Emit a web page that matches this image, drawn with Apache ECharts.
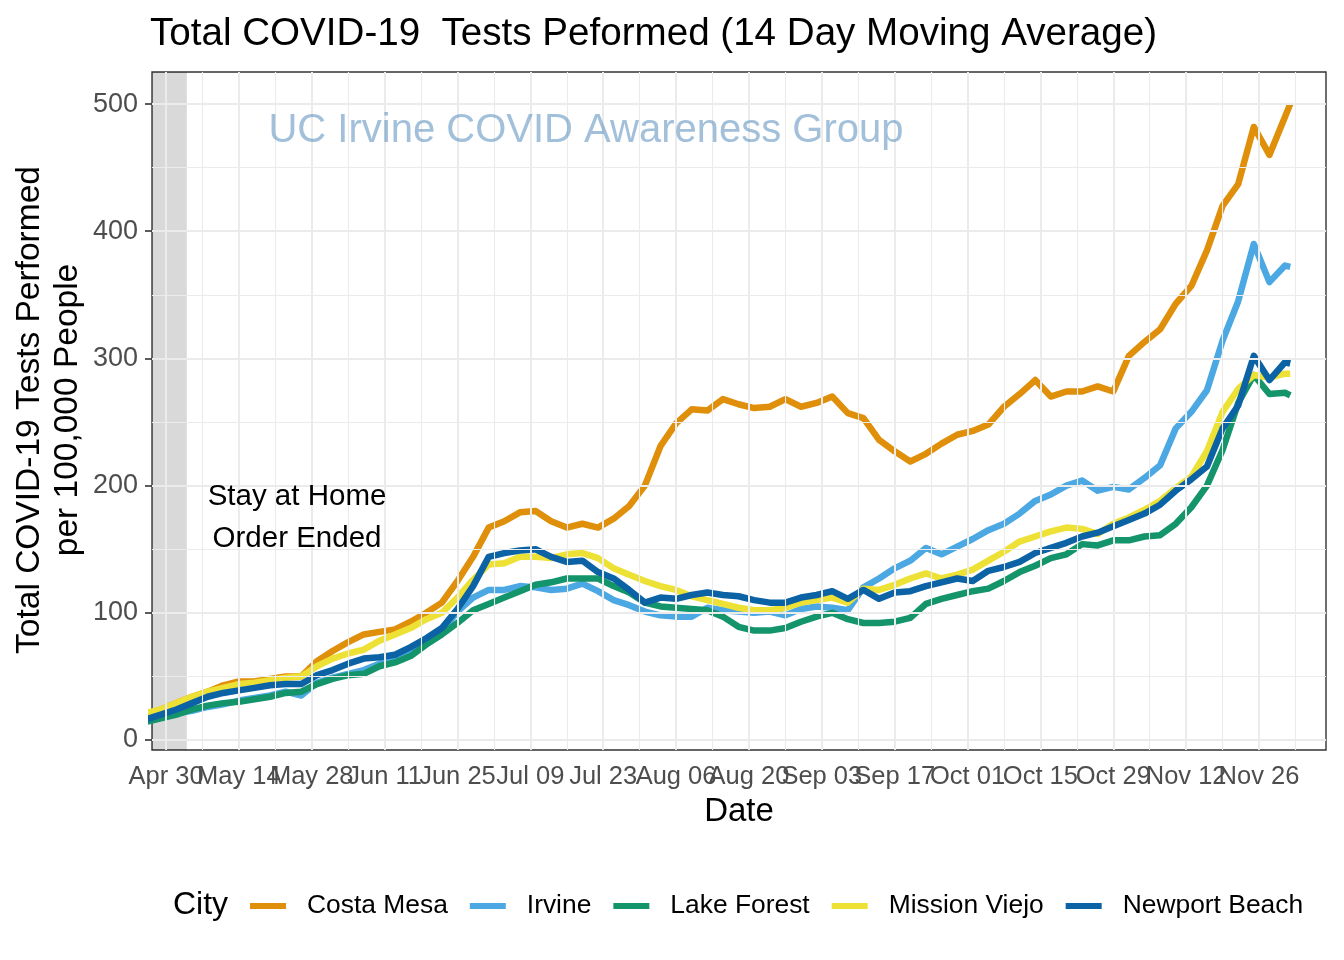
<!DOCTYPE html>
<html>
<head>
<meta charset="utf-8">
<script src="https://cdn.jsdelivr.net/npm/echarts@6/dist/echarts.min.js"></script>
<style>html,body{margin:0;padding:0;background:#fff}#c{width:1344px;height:960px}</style>
</head>
<body>
<div id="c"></div>
<script>
// ---- data ----
const dates = ['2020-04-26','2020-04-29','2020-05-02','2020-05-05','2020-05-08','2020-05-11','2020-05-14','2020-05-17','2020-05-20','2020-05-23','2020-05-26','2020-05-29','2020-06-01','2020-06-04','2020-06-07','2020-06-10','2020-06-13','2020-06-16','2020-06-19','2020-06-22','2020-06-25','2020-06-28','2020-07-01','2020-07-04','2020-07-07','2020-07-10','2020-07-13','2020-07-16','2020-07-19','2020-07-22','2020-07-25','2020-07-28','2020-07-31','2020-08-03','2020-08-06','2020-08-09','2020-08-12','2020-08-15','2020-08-18','2020-08-21','2020-08-24','2020-08-27','2020-08-30','2020-09-02','2020-09-05','2020-09-08','2020-09-11','2020-09-14','2020-09-17','2020-09-20','2020-09-23','2020-09-26','2020-09-29','2020-10-02','2020-10-05','2020-10-08','2020-10-11','2020-10-14','2020-10-17','2020-10-20','2020-10-23','2020-10-26','2020-10-29','2020-11-01','2020-11-04','2020-11-07','2020-11-10','2020-11-13','2020-11-16','2020-11-19','2020-11-22','2020-11-25','2020-11-28','2020-12-01','2020-12-02'];

const costaMesa = [20,24,29,34,38,43,46,46,48,50,50,62,70,77,83,85,87,93,100,108,125,144,167,172,179,180,172,167,170,167,174,184,200,231,249,260,259,268,264,261,262,268,262,265,270,257,253,236,227,219,225,233,240,243,248,262,272,283,270,274,274,278,274,302,313,323,343,357,385,420,437,482,460,490,500];
const irvine = [16,18,21,23,26,28,31,33,35,38,35,45,49,52,55,60,63,68,76,85,101,112,118,118,121,120,118,119,123,117,110,106,101,98,97,97,104,102,101,100,101,98,103,105,104,102,120,127,135,141,151,146,152,158,165,170,178,188,193,200,204,196,199,197,206,216,245,258,275,314,345,390,360,373,372];
const lakeForest = [14,17,20,24,27,29,30,32,34,37,38,44,48,51,52,58,61,66,75,83,92,102,107,112,117,122,124,127,127,127,121,116,108,105,104,103,102,97,89,86,86,88,93,97,100,95,92,92,93,96,107,111,114,117,119,125,132,137,143,146,154,153,157,157,160,161,170,183,200,228,265,287,272,273,271];
const missionViejo = [21,24,29,34,38,41,44,45,47,49,50,58,64,68,71,78,83,88,95,100,112,126,138,139,144,144,143,146,147,143,135,130,125,121,118,113,110,107,104,102,102,104,108,110,112,108,119,118,122,127,131,127,130,134,141,148,156,160,164,167,166,162,170,175,181,188,198,207,227,258,276,287,285,288,288];
const newportBeach = [16,20,24,29,34,37,39,41,43,44,44,51,55,60,64,65,67,73,80,88,103,121,144,147,149,150,144,140,141,132,127,118,108,112,111,114,116,114,113,110,108,108,112,114,117,111,118,111,116,117,121,124,127,125,133,136,140,147,151,155,160,163,168,173,178,185,196,205,215,245,263,302,283,297,296];

const cities = ['Costa Mesa','Irvine','Lake Forest','Mission Viejo','Newport Beach'];
const cityColors = ['#E08F0B','#4CA8E2','#14946A','#EEE135','#0B62A4'];

const xTickDates = ['2020-04-30','2020-05-14','2020-05-28','2020-06-11','2020-06-25','2020-07-09','2020-07-23','2020-08-06','2020-08-20','2020-09-03','2020-09-17','2020-10-01','2020-10-15','2020-10-29','2020-11-12','2020-11-26'];
const xMinorDates = ['2020-05-07','2020-05-21','2020-06-04','2020-06-18','2020-07-02','2020-07-16','2020-07-30','2020-08-13','2020-08-27','2020-09-10','2020-09-24','2020-10-08','2020-10-22','2020-11-05','2020-11-19','2020-12-03'];
const yTicks = [0,100,200,300,400,500];
const yMinor = [50,150,250,350,450];

const shadeEnd = '2020-05-04';
const annotation = 'Stay at Home\nOrder Ended';

// ---- helpers ----
const DAY = 86400000;
function t(s){ const p = s.split('-').map(Number); return new Date(p[0], p[1]-1, p[2]).getTime(); }
const FONT = '"Liberation Sans", Arial, Helvetica, sans-serif';

const seriesValues = [costaMesa, irvine, lakeForest, missionViejo, newportBeach];
const lineSeries = cities.map((name, i) => ({
  name: name,
  type: 'line',
  z: 3,
  showSymbol: false,
  symbol: 'none',
  clip: true,
  color: cityColors[i],
  lineStyle: { width: 6.5, color: cityColors[i], join: 'round', cap: 'butt' },
  emphasis: { disabled: true },
  data: dates.map((d, k) => [t(d), seriesValues[i][k]])
}));

const gridLines = [];
xTickDates.forEach(d => gridLines.push({ xAxis: t(d), lineStyle: { width: 2, color: '#EBEBEB', type: 'solid' } }));
xMinorDates.forEach(d => gridLines.push({ xAxis: t(d), lineStyle: { width: 1.1, color: '#EBEBEB', type: 'solid' } }));
yTicks.forEach(v => gridLines.push({ yAxis: v, lineStyle: { width: 2, color: '#EBEBEB', type: 'solid' } }));
yMinor.forEach(v => gridLines.push({ yAxis: v, lineStyle: { width: 1.1, color: '#EBEBEB', type: 'solid' } }));

const xMin = t('2020-04-30') - 2.69 * DAY;
const xMax = t('2020-11-26') + 12.87 * DAY;

const chart = echarts.init(document.getElementById('c'), null, { renderer: 'canvas' });
chart.setOption({
  animation: false,
  backgroundColor: '#ffffff',
  textStyle: { fontFamily: FONT },
  grid: { left: 152, top: 72, width: 1174, height: 678, show: true, borderColor: '#333333', borderWidth: 1.4, backgroundColor: 'transparent', containLabel: false },
  xAxis: {
    type: 'time', min: xMin, max: xMax,
    axisLine: { show: false },
    splitLine: { show: false },
    axisTick: { show: true, length: 7, lineStyle: { color: '#333333', width: 1.6 }, customValues: xTickDates.map(t) },
    axisLabel: { show: true, margin: 14, color: '#4D4D4D', fontSize: 25.5, fontFamily: FONT, hideOverlap: false,
      customValues: xTickDates.map(t), formatter: '{MMM} {dd}' }
  },
  yAxis: {
    type: 'value', min: -7.86, max: 525.2,
    axisLine: { show: false },
    splitLine: { show: false },
    axisTick: { show: true, length: 7, lineStyle: { color: '#333333', width: 1.6 }, customValues: yTicks },
    axisLabel: { show: true, margin: 14, color: '#4D4D4D', fontSize: 27, fontFamily: FONT, customValues: yTicks }
  },
  legend: {
    show: true, left: 250, top: 893, orient: 'horizontal', padding: 0,
    itemWidth: 36, itemHeight: 6, itemGap: 22, icon: 'rect',
    data: cities,
    textStyle: { fontSize: 26.4, color: '#000', fontFamily: FONT, padding: [0, 0, 0, 16] },
    selectedMode: false
  },
  graphic: [
    { type: 'text', left: 150, top: 15, style: { text: 'Total COVID-19  Tests Peformed (14 Day Moving Average)', font: '38.6px ' + FONT, fill: '#000' } },
    { type: 'text', style: { x: 586, y: 131, text: 'UC Irvine COVID Awareness Group', font: '40px ' + FONT, fill: 'rgba(70,130,180,0.5)', textAlign: 'center', textVerticalAlign: 'middle' }, z: 10 },
    { type: 'text', style: { x: 297, y: 518, text: annotation, font: '29.5px ' + FONT, lineHeight: 42, fill: '#000', textAlign: 'center', textVerticalAlign: 'middle' }, z: 10 },
    { type: 'text', style: { x: 49, y: 410, text: 'Total COVID-19 Tests Performed\nper 100,000 People', font: '33.5px ' + FONT, lineHeight: 38, fill: '#000', textAlign: 'center', textVerticalAlign: 'middle' }, rotation: Math.PI / 2, originX: 49, originY: 410 },
    { type: 'text', style: { x: 739, y: 812, text: 'Date', font: '33px ' + FONT, fill: '#000', textAlign: 'center', textVerticalAlign: 'middle' } },
    { type: 'text', style: { x: 173, y: 905, text: 'City', font: '32px ' + FONT, fill: '#000', textAlign: 'left', textVerticalAlign: 'middle' } }
  ],
  series: [
    {
      type: 'line', name: '_grid', data: [], z: 1, silent: true,
      markLine: { silent: true, symbol: ['none', 'none'], label: { show: false }, animation: false, emphasis: { disabled: true }, data: gridLines }
    }
  ].concat(lineSeries).concat([
    {
      type: 'line', name: '_shade', data: [], z: 5, silent: true,
      markArea: { silent: true, itemStyle: { color: 'rgba(0,0,0,0.15)' }, emphasis: { disabled: true },
        data: [[{ xAxis: xMin }, { xAxis: t(shadeEnd) }]] }
    }
  ])
});
</script>
</body>
</html>
